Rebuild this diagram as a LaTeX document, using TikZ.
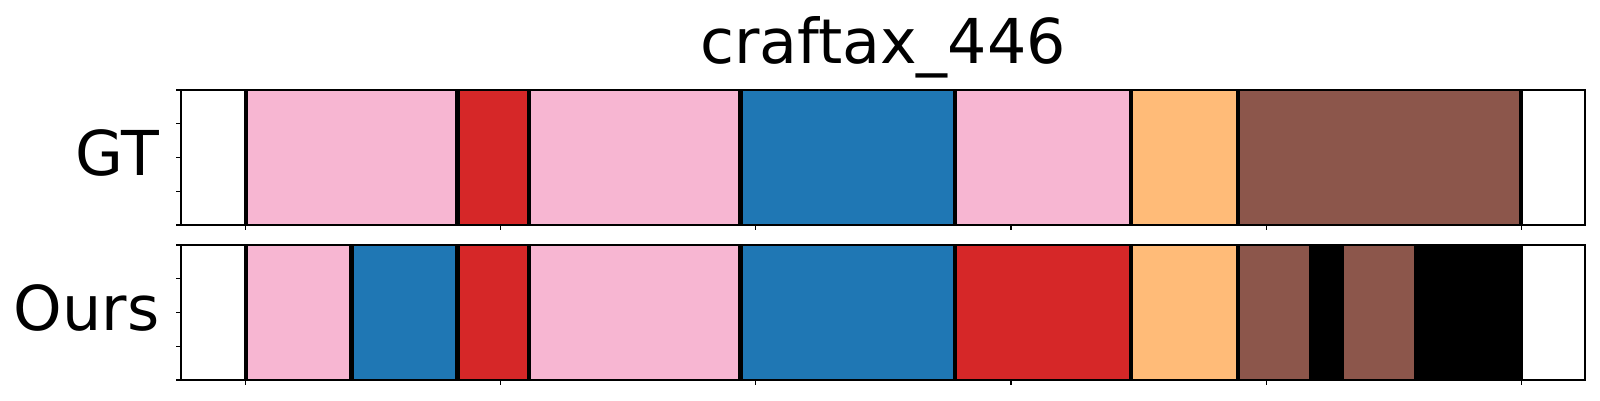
\documentclass[tikz,border=0pt]{standalone}
\usepackage{fontspec}
\setmainfont{DejaVu Sans}
\usepackage{tikz}
\definecolor{segpink}{HTML}{F7B6D2}
\definecolor{segred}{HTML}{D62728}
\definecolor{segblue}{HTML}{1F77B4}
\definecolor{segorange}{HTML}{FFBB78}
\definecolor{segbrown}{HTML}{8C564B}
\tikzset{bigtext/.style={font=\fontsize{17.6}{20}\selectfont}}
\begin{document}
\begin{tikzpicture}[x=0.1mm,y=-0.1mm]
\useasboundingbox (0,0) rectangle (1600,400);
\node[bigtext,anchor=base] (title) at (883,63) {craftax\_446};
\node[bigtext,anchor=base east,inner sep=0pt] (gtlabel) at (160,175) {GT};
\node[bigtext,anchor=base east,inner sep=0pt] (ourslabel) at (160,330) {Ours};
\begin{scope}[xshift=24.57mm,x=0.2551mm]
% GT row
\fill[segpink] (0,90) rectangle (83,225);
\fill[segred] (83,90) rectangle (111,225);
\fill[segpink] (111,90) rectangle (194,225);
\fill[segblue] (194,90) rectangle (278,225);
\fill[segpink] (278,90) rectangle (347,225);
\fill[segorange] (347,90) rectangle (389,225);
\fill[segbrown] (389,90) rectangle (500,225);
\draw[line width=1.2pt] (0,90) -- (0,225) (83,90) -- (83,225) (111,90) -- (111,225)
  (194,90) -- (194,225) (278,90) -- (278,225) (347,90) -- (347,225)
  (389,90) -- (389,225) (500,90) -- (500,225);
% Ours row
\fill[segpink] (0,245) rectangle (41.5,380);
\fill[segblue] (41.5,245) rectangle (83,380);
\fill[segred] (83,245) rectangle (111,380);
\fill[segpink] (111,245) rectangle (194,380);
\fill[segblue] (194,245) rectangle (278,380);
\fill[segred] (278,245) rectangle (347,380);
\fill[segorange] (347,245) rectangle (389,380);
\fill[segbrown] (389,245) rectangle (417,380);
\fill[black] (417,245) rectangle (430.5,380);
\fill[segbrown] (430.5,245) rectangle (458,380);
\fill[black] (458,245) rectangle (500,380);
\draw[line width=1.2pt] (0,245) -- (0,380) (41.5,245) -- (41.5,380) (83,245) -- (83,380)
  (111,245) -- (111,380) (194,245) -- (194,380) (278,245) -- (278,380)
  (347,245) -- (347,380) (389,245) -- (389,380) (500,245) -- (500,380);
% x ticks
\draw[line width=0.3pt] (0,225) -- (0,230) (100,225) -- (100,230) (200,225) -- (200,230)
  (300,225) -- (300,230) (400,225) -- (400,230) (500,225) -- (500,230);
\draw[line width=0.3pt] (0,380) -- (0,385) (100,380) -- (100,385) (200,380) -- (200,385)
  (300,380) -- (300,385) (400,380) -- (400,385) (500,380) -- (500,385);
\end{scope}
\draw[line width=0.35pt] (181,90) rectangle (1585,225);
\draw[line width=0.35pt] (181,245) rectangle (1585,380);
% y ticks
\draw[line width=0.3pt] (176,90) -- (181,90) (176,123.75) -- (181,123.75) (176,157.5) -- (181,157.5)
  (176,191.25) -- (181,191.25) (176,225) -- (181,225);
\draw[line width=0.3pt] (176,245) -- (181,245) (176,278.75) -- (181,278.75) (176,312.5) -- (181,312.5)
  (176,346.25) -- (181,346.25) (176,380) -- (181,380);
\end{tikzpicture}
\end{document}
